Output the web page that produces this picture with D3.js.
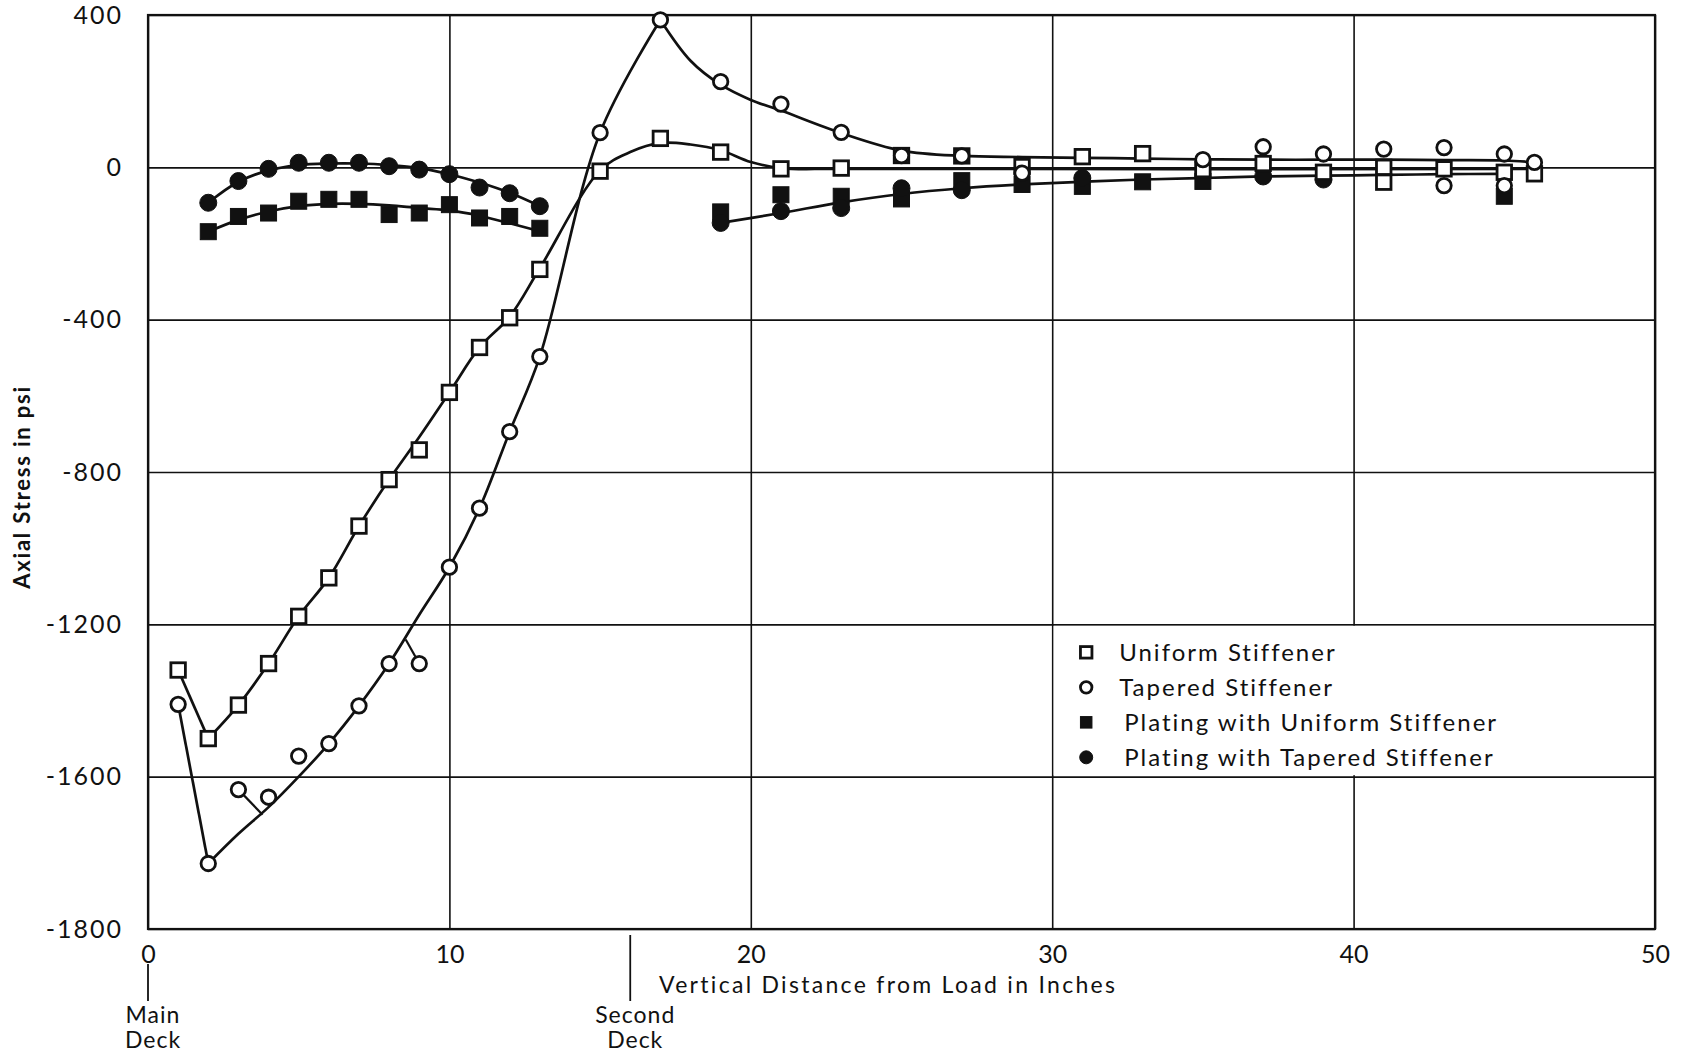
<!DOCTYPE html>
<html>
<head>
<meta charset="utf-8">
<script src="https://cdn.jsdelivr.net/npm/d3@7"></script>
<style>
  body { margin: 0; background: #fff; }
  svg text { font-family: Lato, "DejaVu Sans", sans-serif; fill: #111; }
</style>
</head>
<body>
<div id="chart"></div>
<script>
// axis ticks
const xTicks = [0, 10, 20, 30, 40, 50];
const yTicks = [400, 0, -400, -800, -1200, -1600, -1800];

// measured points: Uniform Stiffener (open squares)
const uniformX = [1, 2, 3, 4, 5, 6, 7, 8, 9, 10, 11, 12, 13, 15, 17, 19, 21, 23, 25, 27, 29, 31, 33, 35, 37, 39, 41, 41, 43, 45, 46];
const uniformY = [-1320, -1500, -1412, -1303, -1179, -1078, -942, -820, -742, -591, -473, -395, -268, -10, 76, 40, -4, -2, 31, 30, 2, 28, 36, -6, 10, -13, 0, -39, -4, -13, -17];

// Tapered Stiffener (open circles)
const taperedX = [1, 2, 3, 4, 5, 6, 7, 8, 9, 10, 11, 12, 13, 15, 17, 19, 21, 23, 25, 27, 29, 35, 37, 39, 41, 43, 43, 45, 45, 46];
const taperedY = [-1410, -1714, -1617, -1627, -1546, -1513, -1414, -1303, -1303, -1050, -895, -694, -497, 91, 387, 225, 166, 92, 31, 30, -15, 20, 54, 35, 48, 52, -48, 35, -48, 13];

// Plating with Uniform Stiffener (filled squares)
const platUniX = [2, 3, 4, 5, 6, 7, 8, 9, 10, 11, 12, 13, 19, 21, 23, 25, 27, 29, 31, 33, 35, 45];
const platUniY = [-169, -129, -120, -89, -84, -84, -124, -120, -98, -133, -129, -160, -117, -72, -76, -83, -35, -45, -50, -38, -37, -76];

// Plating with Tapered Stiffener (filled circles)
const platTapX = [2, 3, 4, 5, 6, 7, 8, 9, 10, 11, 12, 13, 19, 21, 23, 25, 27, 31, 37, 39];
const platTapY = [-93, -36, -4, 12, 12, 12, 3, -6, -18, -53, -68, -102, -146, -115, -107, -55, -60, -28, -24, -32];

// faired curves drawn through the points
const uniformFitAX = [1, 2];
const uniformFitAY = [-1320, -1500];
const uniformFitBX = [2, 3, 4, 5, 6, 7, 8, 9, 10, 11, 12, 13, 15, 16, 17, 18, 19, 20, 21, 23, 46];
const uniformFitBY = [-1500, -1412, -1303, -1179, -1078, -942, -820, -708, -591, -473, -392, -265, -8, 40, 64, 60, 45, 14, -2, -4, -4];

const taperedFitAX = [1, 2];
const taperedFitAY = [-1410, -1714];
const taperedFitBX = [2, 3, 4, 5, 6, 7, 8, 9, 10, 11, 12, 13, 15, 17];
const taperedFitBY = [-1714, -1675, -1640, -1600, -1513, -1414, -1303, -1175, -1050, -895, -694, -497, 91, 387];
const taperedFitCX = [17, 18, 19, 20, 21, 23, 25, 27, 29, 31, 33, 35, 37, 39, 41, 43, 45, 46];
const taperedFitCY = [387, 280, 217, 177, 149, 90, 44, 30, 27, 25, 23, 21, 20, 20, 20, 19, 18, 13];

const platTapFitX = [2, 3, 4, 5, 6, 7, 8, 9, 10, 11, 12, 13];
const platTapFitY = [-93, -38, -8, 6, 10, 10, 6, -2, -18, -40, -67, -102];
const platUniFitX = [2, 3, 4, 5, 6, 7, 8, 9, 10, 11, 12, 13];
const platUniFitY = [-169, -138, -116, -102, -96, -96, -100, -107, -113, -127, -147, -168];
const platFitRightX = [19, 21, 23, 25, 27, 29, 31, 33, 35, 37, 39, 41, 43, 45];
const platFitRightY = [-146, -120, -92, -70, -55, -45, -38, -32, -28, -24, -22, -20, -18, -17];

// leader lines from stray points to the curve
const leaders = [
    [[3, -1617], [3.8, -1650]],
    [[9, -1303], [8.55, -1240]]
];

const legendLabels = ["Uniform Stiffener", "Tapered Stiffener", "Plating with Uniform Stiffener", "Plating with Tapered Stiffener"];
const legendTypes = ["openSquare", "openCircle", "filledSquare", "filledCircle"];

// layout
const width = 1693;
const height = 1055;
const margin = { top: 15, right: 38, bottom: 126, left: 148 };
const w = width - margin.left - margin.right;
const h = height - margin.top - margin.bottom;

const svg = d3.select("#chart")
    .append("svg")
    .attr("width", width)
    .attr("height", height);

const g = svg.append("g")
    .attr("transform", `translate(${margin.left},${margin.top})`);

const x = d3.scaleLinear().domain([0, 50]).range([0, w]);
// the bottom band of the printed axis runs -1600 to -1800 at the same height as the others
const y = d3.scaleLinear().domain([-1800, -1600, 400]).range([h, h * 5 / 6, 0]);

// grid
g.append("g")
    .attr("class", "grid")
    .call(d3.axisLeft(y).tickValues(yTicks).tickSize(-w).tickFormat(""))
    .call(s => s.select(".domain").remove())
    .selectAll("line").attr("stroke", "#111").attr("stroke-width", 1.6);

g.append("g")
    .attr("class", "grid")
    .attr("transform", `translate(0,${h})`)
    .call(d3.axisBottom(x).tickValues(xTicks).tickSize(-h).tickFormat(""))
    .call(s => s.select(".domain").remove())
    .selectAll("line").attr("stroke", "#111").attr("stroke-width", 1.6);

// legend sits in its own grid cell
g.append("rect")
    .attr("x", x(30) + 1.5)
    .attr("y", y(-1200) + 1.5)
    .attr("width", x(50) - x(30) - 3)
    .attr("height", y(-1600) - y(-1200) - 3)
    .attr("fill", "#fff");

// frame
g.append("rect")
    .attr("width", w)
    .attr("height", h)
    .attr("fill", "none")
    .attr("stroke", "#111")
    .attr("stroke-width", 2.2);

// axes labels
g.append("g")
    .call(d3.axisLeft(y).tickValues(yTicks).tickSize(0).tickPadding(25).tickFormat(d => String(d)))
    .call(s => s.select(".domain").remove())
    .selectAll("text")
    .style("font-size", "25px")
    .style("letter-spacing", "2px");

g.append("g")
    .attr("transform", `translate(0,${h})`)
    .call(d3.axisBottom(x).tickValues(xTicks).tickSize(0).tickPadding(16))
    .call(s => s.select(".domain").remove())
    .selectAll("text")
    .style("font-size", "25px");

g.append("text")
    .attr("x", 511)
    .attr("y", h + 64)
    .style("font-size", "23px")
    .style("letter-spacing", "2.3px")
    .text("Vertical Distance from Load in Inches");

g.append("text")
    .attr("transform", `translate(${22 - margin.left + 8},${y(-800) + 15}) rotate(-90)`)
    .attr("text-anchor", "middle")
    .style("font-size", "22px")
    .style("font-weight", "bold")
    .style("letter-spacing", "1.8px")
    .text("Axial Stress in psi");

// deck markers
const decks = [
    { pos: 0, label: ["Main", "Deck"], y1: 35 },
    { pos: 16, label: ["Second", "Deck"], y1: 6 }
];
decks.forEach(d => {
    g.append("line")
        .attr("x1", x(d.pos)).attr("x2", x(d.pos))
        .attr("y1", h + d.y1).attr("y2", h + 72)
        .attr("stroke", "#111").attr("stroke-width", 1.8);
    const t = g.append("text")
        .attr("y", h + 94)
        .attr("text-anchor", "middle")
        .style("font-size", "23px")
        .style("letter-spacing", "1px");
    d.label.forEach((s, i) => {
        t.append("tspan")
            .attr("x", x(d.pos) + 5)
            .attr("dy", i === 0 ? 0 : 25)
            .text(s);
    });
});

// curves
const line = d3.line()
    .x(d => x(d[0]))
    .y(d => y(d[1]))
    .curve(d3.curveCatmullRom.alpha(0.5));
const straight = d3.line().x(d => x(d[0])).y(d => y(d[1]));

const curves = [
    [uniformFitBX, uniformFitBY, line],
    [uniformFitAX, uniformFitAY, straight],
    [taperedFitAX, taperedFitAY, straight],
    [taperedFitBX, taperedFitBY, line],
    [taperedFitCX, taperedFitCY, line],
    [platTapFitX, platTapFitY, line],
    [platUniFitX, platUniFitY, line],
    [platFitRightX, platFitRightY, line]
];
curves.forEach(([xs, ys, gen]) => {
    g.append("path")
        .datum(d3.zip(xs, ys))
        .attr("d", gen)
        .attr("fill", "none")
        .attr("stroke", "#111")
        .attr("stroke-width", 2.7);
});

leaders.forEach(l => {
    g.append("path")
        .datum(l)
        .attr("d", straight)
        .attr("fill", "none")
        .attr("stroke", "#111")
        .attr("stroke-width", 2.2);
});

// markers
function drawMarker(sel, type, cx, cy, s) {
    if (type === "openSquare" || type === "filledSquare") {
        sel.append("rect")
            .attr("x", cx - s / 2).attr("y", cy - s / 2)
            .attr("width", s).attr("height", s)
            .attr("fill", type === "filledSquare" ? "#111" : "#fff")
            .attr("stroke", "#111").attr("stroke-width", type === "filledSquare" ? 1 : 2.8);
    } else {
        sel.append("circle")
            .attr("cx", cx).attr("cy", cy).attr("r", s / 2)
            .attr("fill", type === "filledCircle" ? "#111" : "#fff")
            .attr("stroke", "#111").attr("stroke-width", type === "filledCircle" ? 1 : 2.8);
    }
}

const series = [
    [platUniX, platUniY, "filledSquare", 16],
    [platTapX, platTapY, "filledCircle", 17],
    [uniformX, uniformY, "openSquare", 14.5],
    [taperedX, taperedY, "openCircle", 14.5]
];
series.forEach(([xs, ys, type, s]) => {
    const mg = g.append("g");
    d3.zip(xs, ys).forEach(d => drawMarker(mg, type, x(d[0]), y(d[1]), s));
});

// legend
const lg = g.append("g");
legendLabels.forEach((t, i) => {
    const ry = y(-1200) + 28 + i * 35;
    drawMarker(lg, legendTypes[i], x(30) + 34, ry, legendTypes[i] === "filledCircle" ? 13 : 11.5);
    lg.append("text")
        .attr("x", x(30) + (i < 2 ? 67 : 72))
        .attr("y", ry)
        .attr("dy", "0.35em")
        .style("font-size", "24px")
        .style("letter-spacing", "2px")
        .text(t);
});
</script>
</body>
</html>
